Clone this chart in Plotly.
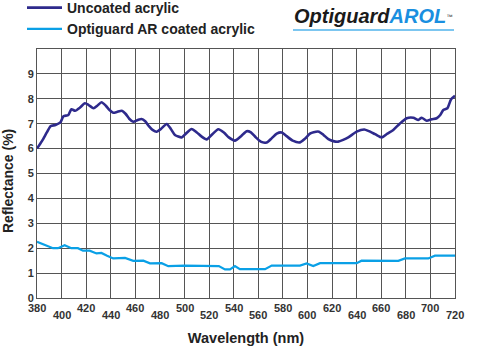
import plotly.graph_objects as go

# Uncoated acrylic reflectance (%)
unc_wl = [380, 384, 388, 391, 395, 399, 401.5, 405.5, 408, 411, 415, 419, 422, 426, 429, 432.5, 436, 439,
          442, 445, 449, 452, 455, 458.3, 462, 465, 468, 471, 474, 477.4, 481, 485.5, 489, 492.2, 497.7,
          501, 505.8, 510, 514, 518, 522, 527.5, 532, 536, 541, 546, 550.6, 554, 558, 562, 566.8, 571,
          575, 579, 583, 588, 593.9, 598, 602, 605, 609.4, 613, 617, 621, 625, 629, 633.2, 640, 646.2,
          650, 655, 660.4, 665, 669.8, 675, 680.7, 686.1, 690.2, 692.9, 697, 701, 705.1, 708, 710.5,
          713.8, 716.8, 720]
unc_val = [6.0, 6.3, 6.65, 6.9, 6.95, 7.05, 7.3, 7.35, 7.58, 7.52, 7.65, 7.82, 7.75, 7.62, 7.72, 7.86, 7.72,
           7.55, 7.44, 7.47, 7.52, 7.4, 7.2, 7.08, 7.15, 7.19, 7.1, 6.9, 6.75, 6.68, 6.8, 6.99, 6.78, 6.55,
           6.45, 6.6, 6.79, 6.65, 6.48, 6.37, 6.55, 6.78, 6.65, 6.45, 6.32, 6.5, 6.7, 6.65, 6.45, 6.28,
           6.24, 6.42, 6.6, 6.65, 6.5, 6.32, 6.25, 6.4, 6.6, 6.66, 6.68, 6.55, 6.38, 6.3, 6.28, 6.35,
           6.45, 6.68, 6.77, 6.7, 6.58, 6.45, 6.6, 6.75, 7.0, 7.22, 7.24, 7.15, 7.24, 7.12, 7.18, 7.22,
           7.35, 7.55, 7.62, 7.98, 8.12]

# Optiguard AR coated acrylic reflectance (%)
ar_wl = [380, 384.6, 389, 393, 397.1, 402.5, 407.9, 413.3, 417.4, 422.8, 428.4, 432.4, 437, 442, 451.6,
         458.3, 466.5, 471.9, 481.4, 486.8, 500, 515, 527.9, 532.9, 537, 541, 545, 553.3, 565.5, 570.9,
         580, 593.9, 599.3, 604.7, 610.2, 625, 640, 644, 660, 673.9, 679.3, 690, 698.3, 703.7, 712, 720]
ar_val = [2.26, 2.17, 2.08, 2.0, 2.0, 2.12, 2.0, 2.0, 1.9, 1.9, 1.79, 1.81, 1.7, 1.59, 1.61,
          1.49, 1.5, 1.39, 1.4, 1.28, 1.3, 1.3, 1.28, 1.15, 1.15, 1.28, 1.16, 1.16, 1.16, 1.3,
          1.3, 1.3, 1.39, 1.28, 1.4, 1.4, 1.4, 1.5, 1.5, 1.49, 1.59, 1.59, 1.59, 1.7, 1.7, 1.7]

x_ticks = list(range(380, 721, 20))
y_ticks = list(range(0, 10))
series_names = ["Uncoated acrylic", "Optiguard AR coated acrylic"]

FONT = "Liberation Sans, Arial, sans-serif"
PL, PT, PW, PH = 37, 49, 418, 249  # plot area in px


def px_x(p):
    return (p - PL) / PW


def px_y(p):
    return 1 - (p - PT) / PH


fig = go.Figure()
fig.add_trace(go.Scatter(x=unc_wl, y=unc_val, mode="lines", name=series_names[0],
                         line=dict(color="#2e2a8c", width=2.6, shape="spline", smoothing=0.6)))
fig.add_trace(go.Scatter(x=ar_wl, y=ar_val, mode="lines", name=series_names[1],
                         line=dict(color="#0aa0e6", width=2.2)))

annotations = []
for i, t in enumerate(x_ticks):
    annotations.append(dict(x=t, y=0, xref="x", yref="paper", text=f"<b>{t}</b>", showarrow=False,
                            yanchor="middle", xanchor="center", yshift=-10 if i % 2 == 0 else -17,
                            font=dict(size=11, color="#333333", family=FONT)))
# y-axis title
annotations.append(dict(x=px_x(8), y=px_y(181), xref="paper", yref="paper", showarrow=False,
                        text="<b>Reflectance (%)</b>", textangle=-90, xanchor="center", yanchor="middle",
                        font=dict(size=14, color="#222222", family=FONT)))
# brand logo
annotations.append(dict(x=px_x(292), y=px_y(16), xref="paper", yref="paper",
                        xanchor="left", yanchor="middle", showarrow=False,
                        text="<b><i>Optiguard<span style='color:#1a8fe0'>AROL</span></i></b>"
                             "<span style='font-size:9px'><sup>™</sup></span>",
                        font=dict(size=20, color="#1a1a1a", family=FONT)))

fig.update_layout(
    width=500, height=347,
    margin=dict(l=PL, r=500 - PL - PW, t=PT, b=347 - PT - PH, autoexpand=False),
    paper_bgcolor="white", plot_bgcolor="white",
    font=dict(family=FONT, color="#222222"),
    showlegend=True,
    legend=dict(x=px_x(22), y=px_y(-8), xref="paper", yref="paper",
                xanchor="left", yanchor="top", bgcolor="rgba(0,0,0,0)",
                font=dict(size=14, color="#222222", family=FONT, weight="bold"), itemwidth=35,
                tracegroupgap=0),
    xaxis=dict(range=[380, 720], tickvals=x_ticks, showticklabels=False, showgrid=True,
               gridcolor="#555555", gridwidth=1, showline=True, linecolor="#555555", linewidth=1,
               mirror=True, zeroline=False, ticks="",
               title=dict(text="<b>Wavelength (nm)</b>", standoff=34,
                          font=dict(size=14.5, color="#222222", family=FONT))),
    yaxis=dict(range=[0, 10], tickvals=y_ticks, ticktext=[f"<b>{v}</b>" for v in y_ticks],
               showgrid=True, gridcolor="#555555", gridwidth=1, showline=True, linecolor="#555555",
               linewidth=1, mirror=True, zeroline=False, ticks="",
               tickfont=dict(size=11, color="#333333", family=FONT)),
    annotations=annotations,
    shapes=[dict(type="line", xref="paper", yref="paper",
                 x0=px_x(293), x1=px_x(454), y0=px_y(30), y1=px_y(30),
                 line=dict(color="#7cc6f0", width=2))],
)

fig.write_html("out.html")
